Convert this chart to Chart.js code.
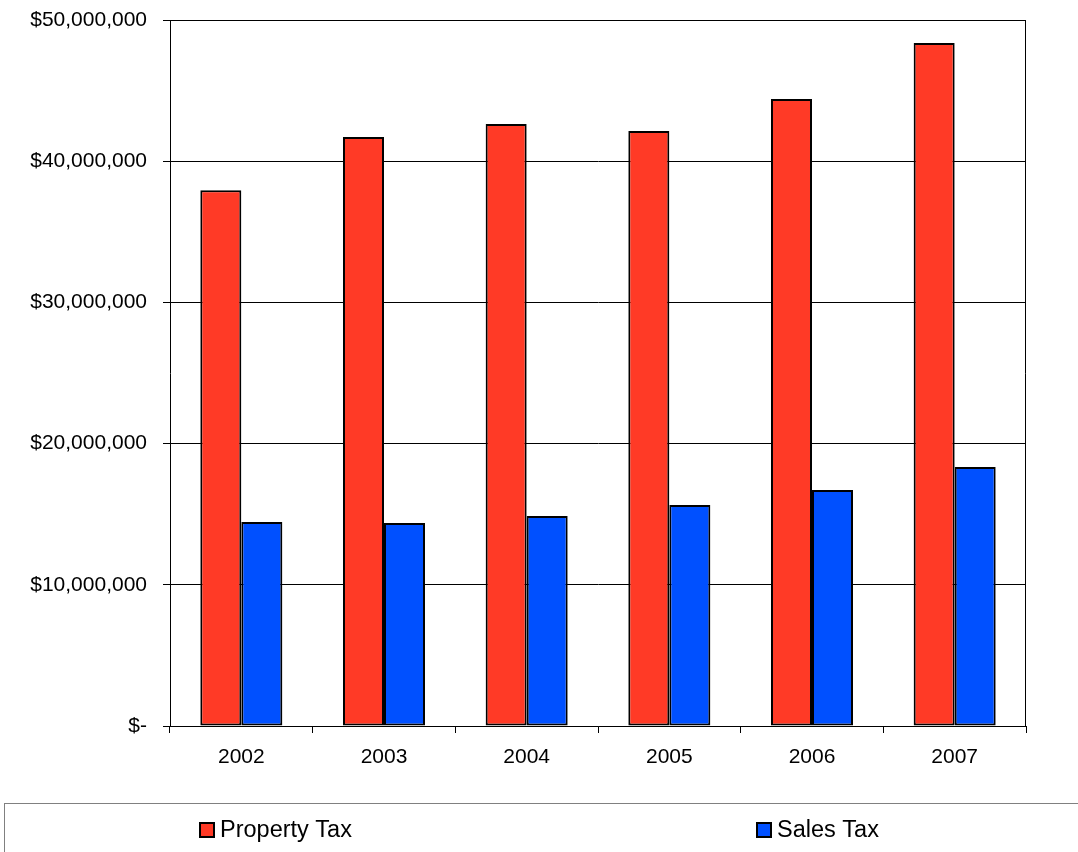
<!DOCTYPE html>
<html lang="en">
<head>
    <meta charset="UTF-8">
    <title>Property Tax and Sales Tax</title>
    <script src="https://cdn.jsdelivr.net/npm/chart.js"></script>
    <style>
        html, body { margin: 0; padding: 0; background: #fff; }
        #wrap { width: 1078px; height: 852px; position: relative; }
    </style>
</head>
<body>
<div id="wrap">
    <canvas id="taxChart" width="1078" height="852"></canvas>
</div>

<script>
    // years and values
    const years = ['2002', '2003', '2004', '2005', '2006', '2007'];
    const propertyTax = [37950000, 41720000, 42630000, 42140000, 44410000, 48370000];
    const salesTax = [14450000, 14380000, 14870000, 15650000, 16710000, 18340000];
    const seriesNames = ['Property Tax', 'Sales Tax'];
    const seriesColors = ['#FF3A26', '#0050FF'];

    const FONT = '"Liberation Sans", Arial, sans-serif';

    function money(v) {
        if (v === 0) return '$-';
        return '$' + v.toLocaleString('en-US');
    }

    // frame round the plot + legend box at the bottom
    const framePlugin = {
        id: 'frame',
        afterDraw(chart) {
            const ctx = chart.ctx;
            const a = chart.chartArea;
            ctx.save();
            ctx.strokeStyle = '#000';
            ctx.lineWidth = 1;
            ctx.beginPath();
            ctx.moveTo(a.left, a.top + 0.5);
            ctx.lineTo(a.right - 0.5, a.top + 0.5);
            ctx.lineTo(a.right - 0.5, a.bottom);
            ctx.stroke();

            // legend
            ctx.strokeStyle = '#808080';
            ctx.strokeRect(4.5, 803.5, 1200, 100);
            const xs = [199, 756];
            ctx.font = '23.5px ' + FONT;
            ctx.textBaseline = 'middle';
            chart.data.datasets.forEach((ds, i) => {
                ctx.fillStyle = ds.backgroundColor;
                ctx.fillRect(xs[i], 822, 16, 16);
                ctx.strokeStyle = '#000';
                ctx.lineWidth = 2;
                ctx.strokeRect(xs[i] + 1, 823, 14, 14);
                ctx.fillStyle = '#000';
                ctx.fillText(ds.label, xs[i] + 21, 831);
            });
            ctx.restore();
        }
    };

    const ctx = document.getElementById('taxChart').getContext('2d');
    new Chart(ctx, {
        type: 'bar',
        data: {
            labels: years,
            datasets: [
                {
                    label: seriesNames[0],
                    data: propertyTax,
                    backgroundColor: seriesColors[0],
                    borderColor: '#000',
                    borderWidth: 2,
                    borderSkipped: false
                },
                {
                    label: seriesNames[1],
                    data: salesTax,
                    backgroundColor: seriesColors[1],
                    borderColor: '#000',
                    borderWidth: 2,
                    borderSkipped: false
                }
            ]
        },
        options: {
            responsive: false,
            animation: false,
            layout: { padding: { left: 0, top: 20, right: 52, bottom: 0 } },
            datasets: {
                bar: { barPercentage: 1.0, categoryPercentage: 0.575 }
            },
            plugins: {
                legend: { display: false },
                tooltip: { enabled: false }
            },
            scales: {
                x: {
                    grid: {
                        offset: true,
                        drawOnChartArea: false,
                        drawTicks: true,
                        tickLength: 7,
                        color: '#000'
                    },
                    border: { color: '#000', width: 1 },
                    ticks: {
                        color: '#000',
                        padding: 12,
                        font: { family: FONT, size: 21 }
                    },
                    afterFit(scale) {
                        scale.height = 126;
                        scale.paddingLeft = 0;
                        scale.paddingRight = 0;
                    }
                },
                y: {
                    min: 0,
                    max: 50000000,
                    ticks: {
                        stepSize: 10000000,
                        color: '#000',
                        padding: 16,
                        font: { family: FONT, size: 21 },
                        callback: (v) => money(v)
                    },
                    grid: {
                        color: '#000',
                        tickLength: 7,
                        drawTicks: true
                    },
                    border: { color: '#000', width: 1 },
                    afterFit(scale) {
                        scale.width = 170;
                        scale.paddingTop = 0;
                        scale.paddingBottom = 0;
                    }
                }
            }
        },
        plugins: [framePlugin]
    });
</script>
</body>
</html>
